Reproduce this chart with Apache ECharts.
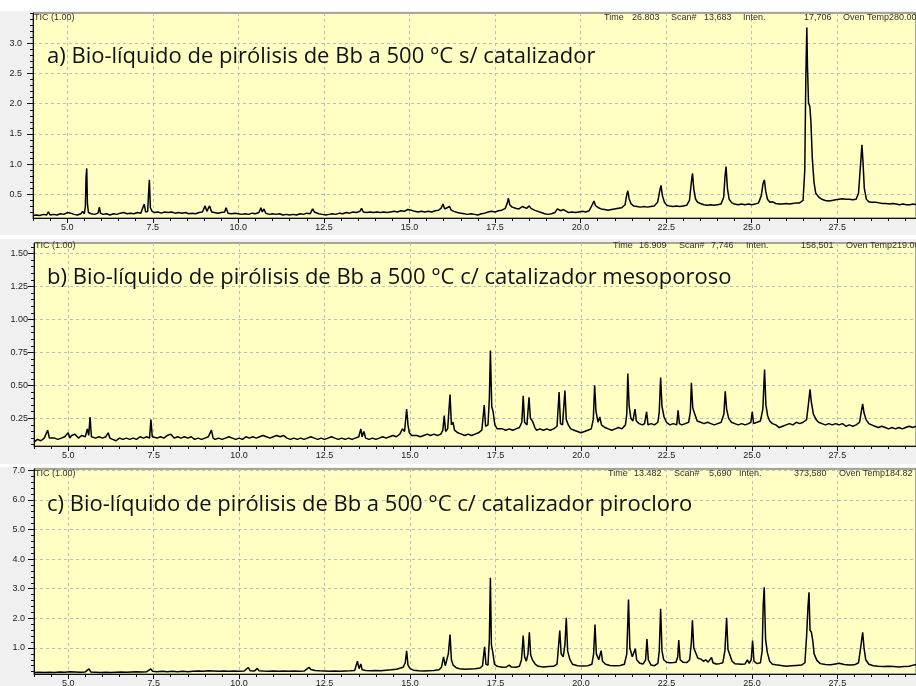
<!DOCTYPE html>
<html>
<head>
<meta charset="utf-8">
<script src="https://cdn.jsdelivr.net/npm/echarts@6/dist/echarts.min.js"></script>
<style>
html,body{margin:0;padding:0;background:#ffffff;}
#chart{width:916px;height:686px;}
</style>
</head>
<body>
<div id="chart"></div>
<script>
// ---------- axis settings / tick labels ----------
const xMin = 4.0, xMax = 29.8;
const xMajorTicks = [5.0, 7.5, 10.0, 12.5, 15.0, 17.5, 20.0, 22.5, 25.0, 27.5];
const yMajorA = [0.5, 1.0, 1.5, 2.0, 2.5, 3.0];
const yMajorB = [0.25, 0.50, 0.75, 1.00, 1.25, 1.50];
const yMajorC = [1.0, 2.0, 3.0, 4.0, 5.0, 6.0, 7.0];
const yRangeA = [0.11, 3.5];
const yRangeB = [0.04, 1.58];
const yRangeC = [0.12, 7.04];

const titleA = 'a) Bio-líquido de pirólisis de Bb a 500 °C s/ catalizador';
const titleB = 'b) Bio-líquido de pirólisis de Bb a 500 °C c/ catalizador mesoporoso';
const titleC = 'c) Bio-líquido de pirólisis de Bb a 500 °C c/ catalizador pirocloro';
const infoA = ['Time', '26.803', 'Scan#', '13,683', 'Inten.', '17,706', 'Oven Temp280.00'];
const infoB = ['Time', '16.909', 'Scan#', '7,746', 'Inten.', '158,501', 'Oven Temp219.00'];
const infoC = ['Time', '13.482', 'Scan#', '5,690', 'Inten.', '373,580', 'Oven Temp184.82'];

// ---------- chromatogram a) (time min, intensity) ----------
const seriesA = [
[4.00,0.15],[4.10,0.16],[4.20,0.15],[4.30,0.17],[4.40,0.16],[4.45,0.21],[4.50,0.16],[4.60,0.17],[4.70,0.16],[4.80,0.18],[4.85,0.21],[4.90,0.17],[5.00,0.20],[5.05,0.17],[5.10,0.19],[5.20,0.17],[5.30,0.16],[5.40,0.18],[5.45,0.22],[5.50,0.18],[5.53,0.30],[5.55,0.78],[5.57,0.93],[5.59,0.35],[5.62,0.20],[5.70,0.18],[5.80,0.17],[5.90,0.19],[5.94,0.29],[5.97,0.19],[6.05,0.17],[6.15,0.18],[6.25,0.16],[6.35,0.18],[6.45,0.17],[6.55,0.19],[6.65,0.20],[6.75,0.18],[6.85,0.19],[6.95,0.18],[7.05,0.20],[7.15,0.19],[7.25,0.34],[7.29,0.21],[7.35,0.22],[7.38,0.55],[7.40,0.74],[7.43,0.28],[7.48,0.22],[7.55,0.20],[7.65,0.21],[7.75,0.19],[7.85,0.21],[7.95,0.20],[8.05,0.21],[8.15,0.19],[8.25,0.20],[8.35,0.19],[8.45,0.20],[8.55,0.18],[8.65,0.19],[8.75,0.18],[8.85,0.20],[8.95,0.21],[9.03,0.31],[9.08,0.22],[9.16,0.31],[9.22,0.21],[9.30,0.20],[9.40,0.19],[9.50,0.20],[9.60,0.21],[9.64,0.28],[9.70,0.19],[9.80,0.18],[9.90,0.19],[10.00,0.18],[10.10,0.17],[10.20,0.18],[10.30,0.17],[10.40,0.19],[10.50,0.18],[10.60,0.20],[10.66,0.28],[10.70,0.21],[10.75,0.26],[10.80,0.19],[10.90,0.17],[11.00,0.18],[11.10,0.17],[11.20,0.18],[11.30,0.16],[11.40,0.17],[11.50,0.16],[11.60,0.17],[11.70,0.16],[11.80,0.18],[11.90,0.17],[12.00,0.19],[12.10,0.18],[12.17,0.26],[12.22,0.21],[12.27,0.24],[12.35,0.18],[12.45,0.17],[12.55,0.16],[12.65,0.17],[12.75,0.18],[12.85,0.17],[12.95,0.19],[13.05,0.18],[13.15,0.20],[13.25,0.19],[13.35,0.21],[13.45,0.20],[13.55,0.22],[13.60,0.27],[13.65,0.21],[13.75,0.20],[13.85,0.21],[13.95,0.20],[14.05,0.21],[14.15,0.20],[14.25,0.21],[14.35,0.20],[14.45,0.21],[14.55,0.22],[14.65,0.21],[14.75,0.23],[14.85,0.22],[14.95,0.25],[15.00,0.22],[15.05,0.24],[15.15,0.22],[15.25,0.21],[15.35,0.22],[15.45,0.21],[15.55,0.22],[15.65,0.21],[15.75,0.23],[15.85,0.24],[15.92,0.27],[15.98,0.34],[16.03,0.26],[16.10,0.28],[16.17,0.30],[16.22,0.24],[16.30,0.22],[16.40,0.20],[16.50,0.19],[16.60,0.18],[16.70,0.17],[16.80,0.18],[16.90,0.17],[17.00,0.16],[17.10,0.18],[17.20,0.19],[17.30,0.21],[17.40,0.22],[17.50,0.21],[17.60,0.23],[17.70,0.24],[17.80,0.27],[17.86,0.36],[17.89,0.44],[17.93,0.33],[18.00,0.29],[18.10,0.27],[18.20,0.26],[18.30,0.30],[18.35,0.32],[18.42,0.27],[18.50,0.31],[18.55,0.27],[18.65,0.24],[18.75,0.22],[18.85,0.20],[18.95,0.18],[19.05,0.17],[19.15,0.18],[19.25,0.20],[19.32,0.26],[19.37,0.29],[19.42,0.23],[19.50,0.25],[19.55,0.22],[19.65,0.20],[19.75,0.21],[19.85,0.20],[19.95,0.21],[20.05,0.22],[20.15,0.21],[20.25,0.23],[20.35,0.34],[20.39,0.39],[20.44,0.31],[20.52,0.28],[20.60,0.26],[20.70,0.25],[20.80,0.24],[20.90,0.25],[21.00,0.26],[21.10,0.27],[21.20,0.28],[21.30,0.33],[21.35,0.50],[21.38,0.56],[21.42,0.42],[21.48,0.34],[21.55,0.31],[21.65,0.30],[21.75,0.29],[21.85,0.30],[21.95,0.29],[22.05,0.30],[22.15,0.31],[22.25,0.37],[22.32,0.58],[22.35,0.65],[22.39,0.48],[22.45,0.37],[22.52,0.32],[22.60,0.31],[22.70,0.30],[22.80,0.31],[22.90,0.30],[23.00,0.31],[23.10,0.32],[23.18,0.40],[23.24,0.72],[23.27,0.85],[23.31,0.58],[23.36,0.42],[23.42,0.37],[23.45,0.40],[23.50,0.35],[23.60,0.33],[23.70,0.32],[23.80,0.33],[23.90,0.32],[24.00,0.33],[24.10,0.34],[24.18,0.45],[24.22,0.80],[24.25,0.96],[24.29,0.60],[24.34,0.42],[24.42,0.36],[24.50,0.34],[24.60,0.33],[24.70,0.34],[24.80,0.33],[24.90,0.34],[25.00,0.33],[25.10,0.34],[25.20,0.36],[25.28,0.48],[25.33,0.68],[25.37,0.74],[25.41,0.55],[25.46,0.42],[25.53,0.37],[25.60,0.38],[25.70,0.35],[25.80,0.34],[25.90,0.34],[26.00,0.35],[26.10,0.34],[26.20,0.35],[26.30,0.36],[26.40,0.36],[26.50,0.40],[26.55,0.90],[26.58,2.40],[26.61,3.26],[26.63,2.60],[26.66,2.01],[26.70,1.95],[26.73,1.70],[26.77,1.10],[26.82,0.70],[26.87,0.52],[26.92,0.49],[26.97,0.45],[27.05,0.42],[27.15,0.40],[27.25,0.39],[27.35,0.40],[27.45,0.41],[27.55,0.42],[27.65,0.43],[27.75,0.42],[27.85,0.42],[27.95,0.41],[28.05,0.42],[28.12,0.52],[28.18,1.00],[28.22,1.32],[28.25,1.05],[28.29,0.60],[28.35,0.42],[28.42,0.38],[28.50,0.37],[28.55,0.39],[28.62,0.37],[28.72,0.36],[28.82,0.35],[28.92,0.35],[29.02,0.34],[29.12,0.35],[29.22,0.34],[29.32,0.33],[29.42,0.34],[29.52,0.33],[29.62,0.33],[29.72,0.34],[29.80,0.33]
];

// ---------- chromatogram b) ----------
const seriesB = [
[4.0,0.07],[4.1,0.09],[4.2,0.08],[4.3,0.10],[4.4,0.16],[4.45,0.10],[4.5,0.09],[4.6,0.10],[4.7,0.09],[4.8,0.10],[4.9,0.11],[5.0,0.14],[5.05,0.10],[5.1,0.12],[5.2,0.13],[5.3,0.10],[5.4,0.12],[5.5,0.11],[5.56,0.17],[5.6,0.12],[5.64,0.26],[5.68,0.11],[5.8,0.10],[5.9,0.11],[6.0,0.10],[6.1,0.11],[6.17,0.14],[6.22,0.10],[6.3,0.09],[6.4,0.08],[6.5,0.10],[6.6,0.09],[6.7,0.10],[6.8,0.09],[6.9,0.10],[7.0,0.09],[7.1,0.11],[7.2,0.10],[7.3,0.11],[7.38,0.10],[7.42,0.24],[7.46,0.11],[7.5,0.12],[7.6,0.10],[7.7,0.11],[7.8,0.10],[7.9,0.12],[8.0,0.13],[8.1,0.10],[8.2,0.11],[8.3,0.10],[8.4,0.11],[8.5,0.10],[8.6,0.11],[8.7,0.09],[8.8,0.10],[8.9,0.09],[9.0,0.10],[9.1,0.11],[9.19,0.16],[9.24,0.10],[9.3,0.09],[9.4,0.10],[9.5,0.09],[9.6,0.10],[9.7,0.11],[9.8,0.10],[9.9,0.09],[10.0,0.10],[10.1,0.09],[10.2,0.11],[10.3,0.10],[10.4,0.11],[10.5,0.10],[10.6,0.11],[10.7,0.12],[10.8,0.11],[10.9,0.10],[11.0,0.11],[11.1,0.12],[11.2,0.11],[11.3,0.12],[11.4,0.10],[11.5,0.09],[11.6,0.10],[11.7,0.09],[11.8,0.10],[11.9,0.09],[12.0,0.10],[12.1,0.11],[12.2,0.10],[12.3,0.09],[12.4,0.10],[12.5,0.09],[12.6,0.10],[12.7,0.11],[12.8,0.10],[12.9,0.09],[13.0,0.10],[13.1,0.09],[13.2,0.10],[13.3,0.09],[13.4,0.10],[13.5,0.11],[13.56,0.17],[13.6,0.11],[13.65,0.15],[13.7,0.10],[13.8,0.09],[13.9,0.10],[14.0,0.09],[14.1,0.10],[14.2,0.11],[14.3,0.10],[14.4,0.11],[14.5,0.12],[14.6,0.11],[14.7,0.13],[14.78,0.17],[14.84,0.15],[14.9,0.32],[14.94,0.20],[14.98,0.14],[15.05,0.12],[15.1,0.11],[15.2,0.12],[15.3,0.11],[15.4,0.12],[15.5,0.13],[15.6,0.12],[15.7,0.13],[15.8,0.12],[15.9,0.13],[15.96,0.16],[16.0,0.27],[16.04,0.15],[16.1,0.17],[16.17,0.43],[16.21,0.20],[16.26,0.22],[16.3,0.16],[16.4,0.14],[16.5,0.13],[16.6,0.12],[16.7,0.13],[16.8,0.12],[16.9,0.13],[17.0,0.14],[17.1,0.16],[17.17,0.35],[17.21,0.19],[17.28,0.20],[17.32,0.40],[17.35,0.765],[17.39,0.34],[17.43,0.30],[17.48,0.20],[17.55,0.17],[17.6,0.16],[17.7,0.17],[17.8,0.16],[17.9,0.17],[18.0,0.16],[18.1,0.17],[18.2,0.18],[18.27,0.22],[18.31,0.42],[18.35,0.22],[18.42,0.20],[18.48,0.41],[18.52,0.25],[18.58,0.23],[18.65,0.18],[18.7,0.16],[18.8,0.17],[18.9,0.16],[19.0,0.17],[19.1,0.16],[19.2,0.17],[19.3,0.19],[19.36,0.45],[19.4,0.21],[19.46,0.20],[19.53,0.46],[19.57,0.24],[19.63,0.20],[19.7,0.17],[19.8,0.16],[19.9,0.15],[20.0,0.14],[20.1,0.15],[20.2,0.16],[20.3,0.17],[20.36,0.24],[20.4,0.50],[20.44,0.30],[20.5,0.22],[20.55,0.26],[20.6,0.20],[20.7,0.18],[20.8,0.17],[20.9,0.16],[21.0,0.17],[21.1,0.18],[21.2,0.17],[21.3,0.20],[21.34,0.28],[21.37,0.59],[21.41,0.34],[21.46,0.25],[21.52,0.23],[21.58,0.32],[21.62,0.23],[21.7,0.21],[21.8,0.20],[21.86,0.21],[21.92,0.30],[21.96,0.20],[22.05,0.21],[22.15,0.20],[22.25,0.22],[22.29,0.30],[22.33,0.56],[22.37,0.34],[22.43,0.26],[22.5,0.22],[22.6,0.20],[22.7,0.21],[22.8,0.20],[22.84,0.31],[22.88,0.21],[22.95,0.20],[23.05,0.21],[23.15,0.22],[23.2,0.30],[23.23,0.52],[23.27,0.33],[23.33,0.28],[23.4,0.23],[23.5,0.22],[23.6,0.21],[23.7,0.22],[23.8,0.21],[23.9,0.20],[24.0,0.21],[24.1,0.22],[24.18,0.28],[24.22,0.455],[24.26,0.32],[24.32,0.25],[24.4,0.22],[24.5,0.21],[24.6,0.20],[24.7,0.21],[24.8,0.20],[24.9,0.21],[24.97,0.22],[25.01,0.30],[25.05,0.21],[25.15,0.22],[25.25,0.23],[25.32,0.32],[25.37,0.62],[25.41,0.35],[25.46,0.27],[25.52,0.23],[25.6,0.21],[25.7,0.20],[25.8,0.18],[25.9,0.19],[26.0,0.20],[26.1,0.21],[26.2,0.20],[26.3,0.22],[26.4,0.21],[26.5,0.22],[26.6,0.24],[26.65,0.35],[26.7,0.47],[26.74,0.37],[26.8,0.28],[26.88,0.24],[26.95,0.22],[27.05,0.21],[27.15,0.20],[27.25,0.21],[27.35,0.20],[27.45,0.21],[27.55,0.20],[27.65,0.21],[27.75,0.19],[27.85,0.20],[27.95,0.19],[28.05,0.20],[28.15,0.22],[28.2,0.30],[28.24,0.36],[28.28,0.29],[28.34,0.24],[28.42,0.21],[28.5,0.20],[28.6,0.19],[28.7,0.18],[28.8,0.19],[28.9,0.18],[29.0,0.17],[29.1,0.18],[29.2,0.17],[29.3,0.18],[29.4,0.17],[29.5,0.18],[29.6,0.19],[29.7,0.18],[29.8,0.19]
];

// ---------- chromatogram c) ----------
const seriesC = [
[4.0,0.17],[4.15,0.18],[4.3,0.17],[4.45,0.18],[4.6,0.17],[4.75,0.19],[4.9,0.18],[5.05,0.20],[5.2,0.19],[5.35,0.18],[5.5,0.19],[5.61,0.29],[5.66,0.19],[5.8,0.18],[5.95,0.17],[6.1,0.18],[6.25,0.17],[6.4,0.18],[6.55,0.19],[6.7,0.18],[6.85,0.19],[7.0,0.20],[7.15,0.19],[7.3,0.20],[7.42,0.29],[7.47,0.21],[7.6,0.20],[7.75,0.21],[7.9,0.20],[8.05,0.21],[8.2,0.20],[8.35,0.21],[8.5,0.20],[8.65,0.21],[8.8,0.22],[8.95,0.21],[9.1,0.23],[9.25,0.22],[9.4,0.21],[9.55,0.22],[9.7,0.21],[9.85,0.22],[10.0,0.21],[10.15,0.22],[10.27,0.34],[10.32,0.23],[10.45,0.22],[10.53,0.31],[10.58,0.23],[10.7,0.22],[10.85,0.21],[11.0,0.22],[11.15,0.21],[11.3,0.22],[11.45,0.21],[11.6,0.22],[11.75,0.21],[11.9,0.22],[12.05,0.34],[12.1,0.27],[12.15,0.31],[12.22,0.24],[12.35,0.23],[12.5,0.22],[12.65,0.21],[12.8,0.22],[12.95,0.21],[13.1,0.22],[13.25,0.23],[13.38,0.24],[13.46,0.55],[13.51,0.30],[13.56,0.46],[13.6,0.26],[13.7,0.24],[13.85,0.23],[14.0,0.24],[14.15,0.23],[14.3,0.25],[14.45,0.26],[14.6,0.28],[14.72,0.32],[14.8,0.35],[14.86,0.50],[14.9,0.90],[14.94,0.42],[15.0,0.30],[15.1,0.25],[15.25,0.23],[15.4,0.22],[15.55,0.23],[15.7,0.24],[15.85,0.26],[15.92,0.35],[15.98,0.70],[16.03,0.40],[16.08,0.45],[16.12,0.80],[16.17,1.45],[16.21,0.60],[16.26,0.42],[16.35,0.33],[16.45,0.30],[16.6,0.28],[16.75,0.29],[16.9,0.30],[17.05,0.32],[17.12,0.40],[17.18,1.04],[17.22,0.45],[17.28,0.42],[17.32,1.30],[17.35,3.37],[17.38,1.10],[17.42,0.85],[17.47,0.45],[17.55,0.38],[17.7,0.35],[17.82,0.36],[17.9,0.42],[17.96,0.36],[18.1,0.35],[18.2,0.38],[18.26,0.60],[18.31,1.42],[18.35,0.70],[18.4,0.55],[18.45,0.80],[18.49,1.53],[18.53,0.75],[18.58,0.60],[18.66,0.45],[18.75,0.38],[18.9,0.36],[19.05,0.37],[19.2,0.38],[19.3,0.45],[19.38,1.59],[19.42,0.80],[19.48,0.70],[19.53,1.10],[19.57,2.02],[19.61,0.90],[19.67,0.63],[19.75,0.45],[19.9,0.40],[20.05,0.39],[20.2,0.40],[20.32,0.45],[20.37,0.80],[20.41,1.79],[20.45,0.80],[20.52,0.60],[20.59,0.91],[20.63,0.55],[20.72,0.45],[20.85,0.41],[21.0,0.40],[21.15,0.41],[21.27,0.45],[21.34,0.80],[21.39,2.63],[21.43,1.00],[21.5,0.70],[21.55,0.75],[21.59,0.97],[21.63,0.60],[21.72,0.48],[21.82,0.46],[21.89,0.60],[21.93,1.30],[21.97,0.60],[22.05,0.42],[22.15,0.40],[22.25,0.48],[22.29,0.90],[22.33,2.32],[22.37,0.90],[22.42,0.60],[22.5,0.52],[22.6,0.50],[22.7,0.51],[22.78,0.52],[22.83,0.70],[22.86,1.27],[22.9,0.60],[22.98,0.52],[23.1,0.51],[23.18,0.60],[23.23,1.20],[23.26,1.93],[23.3,1.00],[23.35,0.97],[23.42,0.65],[23.5,0.63],[23.58,0.55],[23.65,0.60],[23.72,0.52],[23.82,0.68],[23.86,0.50],[23.95,0.46],[24.05,0.47],[24.15,0.50],[24.21,0.90],[24.26,2.02],[24.3,0.95],[24.35,0.91],[24.42,0.55],[24.5,0.47],[24.6,0.46],[24.7,0.45],[24.8,0.46],[24.87,0.60],[24.92,0.48],[24.98,0.60],[25.02,1.25],[25.06,0.55],[25.15,0.47],[25.25,0.50],[25.3,0.90],[25.33,2.43],[25.36,3.05],[25.4,1.30],[25.45,0.85],[25.52,0.55],[25.6,0.45],[25.7,0.43],[25.85,0.41],[26.0,0.38],[26.15,0.40],[26.3,0.41],[26.45,0.42],[26.55,0.50],[26.6,1.40],[26.64,2.38],[26.67,2.88],[26.7,1.60],[26.74,1.53],[26.78,1.25],[26.82,0.80],[26.9,0.58],[27.0,0.47],[27.15,0.44],[27.3,0.43],[27.45,0.46],[27.55,0.48],[27.7,0.44],[27.85,0.42],[28.0,0.43],[28.12,0.50],[28.18,1.00],[28.24,1.53],[28.28,1.00],[28.33,0.60],[28.42,0.45],[28.55,0.40],[28.7,0.38],[28.85,0.37],[29.0,0.38],[29.15,0.37],[29.3,0.36],[29.45,0.37],[29.6,0.38],[29.72,0.42],[29.8,0.43]
];

// ---------- layout ----------
const panels = [
  {data: seriesA, yRange: yRangeA, yMajor: yMajorA, yMinorStep: 0.1, yDec: 1, title: titleA, info: infoA,
   grid: {left: 33, top: 13, height: 205}, labelMargin: 11, bg: [11, 235], titleY: 57, infoY: 18},
  {data: seriesB, yRange: yRangeB, yMajor: yMajorB, yMinorStep: 0.05, yDec: 2, title: titleB, info: infoB,
   grid: {left: 34, top: 243, height: 203}, labelMargin: 6, bg: [239, 464], titleY: 278, infoY: 246},
  {data: seriesC, yRange: yRangeC, yMajor: yMajorC, yMinorStep: 0.2, yDec: 1, title: titleC, info: infoC,
   grid: {left: 34, top: 469, height: 205}, labelMargin: 9, bg: [467, 686], titleY: 505, infoY: 474}
];
const infoXs = [
  [604, 632, 671, 704, 743, 804, 843],
  [613, 639, 679, 711, 746, 801, 846],
  [608, 634, 674, 709, 739, 794, 839]
];

function minorTicks(min, max, step) {
  const out = [];
  const start = Math.ceil(min / step - 1e-9);
  for (let k = start; k * step <= max + 1e-9; k++) out.push(+(k * step).toFixed(4));
  return out;
}

const axisFont = {fontSize: 9, fontFamily: 'Liberation Sans', color: '#222'};
const gridColor = '#bdbdbd';

const grids = [], xAxes = [], yAxes = [], series = [], graphics = [];
panels.forEach((p, i) => {
  grids.push({left: p.grid.left, top: p.grid.top, height: p.grid.height, right: 0,
    containLabel: false, outerBoundsMode: 'none',
    show: true, backgroundColor: '#ffffc4', borderColor: '#555', borderWidth: 1});
  xAxes.push({gridIndex: i, type: 'value', min: xMin, max: xMax, position: 'bottom',
    axisLine: {show: true, onZero: false, lineStyle: {color: '#111', width: 1}},
    axisTick: {show: true, inside: false, length: 5, customValues: xMajorTicks, lineStyle: {color: '#111'}},
    axisLabel: Object.assign({show: true, margin: 5, customValues: xMajorTicks,
      formatter: v => Number(v).toFixed(1)}, axisFont),
    splitLine: {show: true, lineStyle: {color: gridColor, type: [3, 3], width: 1}}
  });
  xAxes.push({gridIndex: i, type: 'value', min: xMin, max: xMax, position: 'bottom',
    axisLine: {show: false, onZero: false},
    axisTick: {show: true, inside: false, length: 3, customValues: minorTicks(xMin, xMax, 0.5), lineStyle: {color: '#111'}},
    axisLabel: {show: false}, splitLine: {show: false}
  });
  yAxes.push({gridIndex: i, type: 'value', min: p.yRange[0], max: p.yRange[1], position: 'left',
    axisLine: {show: true, onZero: false, lineStyle: {color: '#111', width: 1}},
    axisTick: {show: true, inside: false, length: 6, customValues: p.yMajor, lineStyle: {color: '#111'}},
    axisLabel: Object.assign({show: true, margin: p.labelMargin, customValues: p.yMajor,
      formatter: v => Number(v).toFixed(p.yDec)}, axisFont),
    splitLine: {show: true, lineStyle: {color: gridColor, type: [3, 3], width: 1}}
  });
  yAxes.push({gridIndex: i, type: 'value', min: p.yRange[0], max: p.yRange[1], position: 'left',
    axisLine: {show: false, onZero: false},
    axisTick: {show: true, inside: false, length: 3, customValues: minorTicks(p.yRange[0], p.yRange[1], p.yMinorStep), lineStyle: {color: '#111'}},
    axisLabel: {show: false}, splitLine: {show: false}
  });
  series.push({type: 'line', xAxisIndex: 2 * i, yAxisIndex: 2 * i, data: p.data,
    showSymbol: false, symbol: 'none', animation: false, clip: true,
    lineStyle: {color: '#000', width: 1.5}, z: 5});

  graphics.push({type: 'rect', z: -10, silent: true,
    shape: {x: 0, y: p.bg[0], width: 916, height: p.bg[1] - p.bg[0]}, style: {fill: '#f0f0f0'}});
  graphics.push({type: 'text', z: 50, x: 47, y: p.titleY,
    style: {text: p.title, fontSize: 22, fontFamily: 'Open Sans', fill: '#111', verticalAlign: 'middle'}});
  graphics.push({type: 'text', z: 50, x: p.grid.left + 1, y: p.infoY,
    style: {text: 'TIC (1.00)', fontSize: 9, fontFamily: 'Liberation Sans', fill: '#333', verticalAlign: 'middle'}});
  p.info.forEach((t, k) => {
    graphics.push({type: 'text', z: 50, x: infoXs[i][k], y: p.infoY,
      style: {text: t, fontSize: 9, fontFamily: 'Liberation Sans', fill: '#333', verticalAlign: 'middle'}});
  });
});

const chart = echarts.init(document.getElementById('chart'), null, {renderer: 'canvas'});
chart.setOption({
  animation: false,
  backgroundColor: '#ffffff',
  grid: grids, xAxis: xAxes, yAxis: yAxes, series: series,
  graphic: {elements: graphics}
});
</script>
</body>
</html>
